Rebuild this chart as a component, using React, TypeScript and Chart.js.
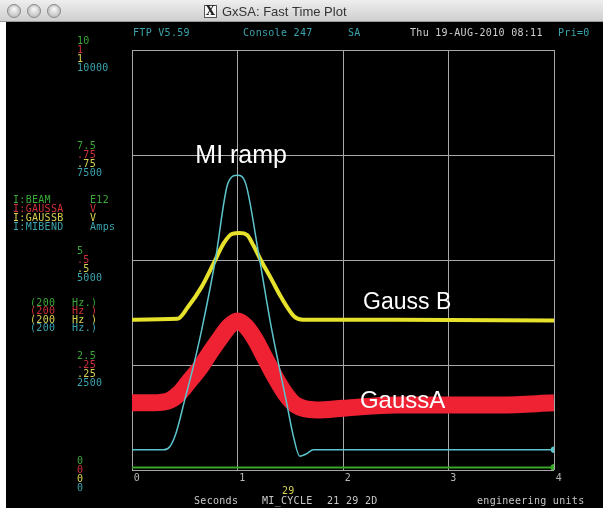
import React, { useEffect, useRef } from "react";
import { Chart, registerables } from "chart.js";

Chart.register(...registerables);

// ---- data ----
const miRampTime = [0, 0.3, 0.36, 0.42, 0.5, 0.58, 0.66, 0.79, 0.91, 1.0, 1.08, 1.2, 1.32, 1.46, 1.53, 1.59, 1.65, 1.72, 4];
const miRampValue = [0.48, 0.48, 0.56, 0.9, 1.67, 2.45, 3.33, 5.0, 6.83, 7.02, 6.8, 5.15, 3.4, 1.67, 0.8, 0.33, 0.38, 0.48, 0.48];

const gaussBTime = [0, 0.43, 0.53, 0.66, 0.77, 0.87, 0.95, 1.02, 1.09, 1.15, 1.22, 1.32, 1.41, 1.54, 1.62, 2.5, 4];
const gaussBValue = [3.58, 3.6, 3.88, 4.36, 4.9, 5.4, 5.62, 5.64, 5.6, 5.35, 5.0, 4.55, 4.13, 3.65, 3.58, 3.58, 3.56];

const gaussATime = [0, 0.2, 0.36, 0.45, 0.55, 0.65, 0.74, 0.83, 0.92, 1.0, 1.08, 1.17, 1.26, 1.36, 1.45, 1.55, 1.75, 2.0, 2.5, 3.0, 3.5, 4];
const gaussAValue = [1.6, 1.6, 1.66, 1.83, 2.14, 2.45, 2.8, 3.12, 3.42, 3.55, 3.42, 3.1, 2.67, 2.2, 1.83, 1.55, 1.43, 1.47, 1.55, 1.55, 1.55, 1.6];

const beamTime = [0, 1, 2, 3, 4];
const beamValue = [0.06, 0.06, 0.06, 0.06, 0.06];

const yTickValues = [10, 7.5, 5, 2.5, 0];
const beamTickLabels = ["10", "7.5", "5", "2.5", "0"];
const gaussATickLabels = ["1", ".75", ".5", ".25", "0"];
const gaussBTickLabels = ["1", ".75", ".5", ".25", "0"];
const miBendTickLabels = ["10000", "7500", "5000", "2500", "0"];

const xTickValues = [0, 1, 2, 3, 4];
const xTickLabels = ["0", "1", "2", "3", "4"];

const legendNames = ["I:BEAM", "I:GAUSSA", "I:GAUSSB", "I:MIBEND"];
const legendUnits = ["E12", "V", "V", "Amps"];
const legendRates = ["(200", "(200", "(200", "(200"];
const legendRateUnits = ["Hz.)", "Hz )", "Hz )", "Hz.)"];

const annotationTexts = ["MI ramp", "Gauss B", "GaussA"];
const annotationX = [0.6, 2.19, 2.16];
const annotationY = [7.3, 3.83, 1.48];
const annotationSize = [25, 23, 24];

const GREEN = "#3aa836";
const RED = "#d0303c";
const YELLOW = "#d8d450";
const TEAL = "#3aa4ae";
const MONO = '10px "DejaVu Sans Mono", monospace';

const toXY = (t: number[], v: number[]) => t.map((x, i) => ({ x, y: v[i] }));

const chromePlugin = {
  id: "chrome",
  beforeDraw(chart: any) {
    const ctx = chart.ctx as CanvasRenderingContext2D;
    const W = chart.width;
    const H = chart.height;
    ctx.save();
    ctx.fillStyle = "#ffffff";
    ctx.fillRect(0, 0, W, H);
    const g = ctx.createLinearGradient(0, 0, 0, 22);
    g.addColorStop(0, "#eeeeee");
    g.addColorStop(1, "#cdcdcd");
    ctx.fillStyle = g;
    ctx.fillRect(0, 0, W, 22);
    ctx.fillStyle = "#9a9a9a";
    ctx.fillRect(0, 21, W, 1);
    ctx.fillStyle = "#000000";
    ctx.fillRect(6, 22, W - 6, H - 22);
    [14, 34, 54].forEach((cx) => {
      const rg = ctx.createRadialGradient(cx, 9, 1, cx, 11, 7);
      rg.addColorStop(0, "#f4f4f4");
      rg.addColorStop(1, "#b8b8b8");
      ctx.beginPath();
      ctx.arc(cx, 11, 6.5, 0, Math.PI * 2);
      ctx.fillStyle = rg;
      ctx.fill();
      ctx.strokeStyle = "#8a8a8a";
      ctx.lineWidth = 1;
      ctx.stroke();
    });
    ctx.fillStyle = "#f8f8f8";
    ctx.fillRect(204, 5, 13, 13);
    ctx.strokeStyle = "#555";
    ctx.strokeRect(204.5, 5.5, 12, 12);
    ctx.font = 'bold 12px "DejaVu Serif", serif';
    ctx.fillStyle = "#222";
    ctx.textBaseline = "middle";
    ctx.textAlign = "center";
    ctx.fillText("X", 210.5, 12);
    ctx.font = '13px "Liberation Sans", Arial, sans-serif';
    ctx.textAlign = "left";
    ctx.fillStyle = "#333";
    ctx.fillText("GxSA: Fast Time Plot", 222, 12);
    ctx.restore();
  },
};

const textPlugin = {
  id: "texts",
  afterDraw(chart: any) {
    const ctx = chart.ctx as CanvasRenderingContext2D;
    const xs = chart.scales.x;
    const ys = chart.scales.y;
    ctx.save();
    (ctx as any).letterSpacing = "0.3px";
    ctx.font = MONO;
    ctx.textBaseline = "middle";
    ctx.textAlign = "left";

    const header: [string, number, string][] = [
      ["FTP V5.59", 133, TEAL],
      ["Console 247", 243, TEAL],
      ["SA", 348, TEAL],
      ["Thu 19-AUG-2010 08:11", 410, "#d0d0d0"],
      ["Pri=0", 558, TEAL],
    ];
    header.forEach(([t, x, c]) => {
      ctx.fillStyle = c;
      ctx.fillText(t, x, 33);
    });

    const groups = [beamTickLabels, gaussATickLabels, gaussBTickLabels, miBendTickLabels];
    const colors = [GREEN, RED, YELLOW, TEAL];
    const offs = [-9, 0, 9, 18];
    yTickValues.forEach((v, i) => {
      const py = ys.getPixelForValue(v);
      groups.forEach((labels, k) => {
        ctx.fillStyle = colors[k];
        ctx.fillText(labels[i], 77, py + offs[k]);
      });
    });

    legendNames.forEach((n, k) => {
      const y = 200 + k * 9;
      ctx.fillStyle = colors[k];
      ctx.fillText(n, 13, y);
      ctx.fillText(legendUnits[k], 90, y);
    });
    legendRates.forEach((r, k) => {
      const y = 303 + k * 8.5;
      ctx.fillStyle = colors[k];
      ctx.fillText(r, 30, y);
      ctx.fillText(legendRateUnits[k], 72, y);
    });

    ctx.fillStyle = "#b8b8b8";
    ctx.textAlign = "center";
    xTickValues.forEach((v, i) => {
      ctx.fillText(xTickLabels[i], xs.getPixelForValue(v) + 5, 478);
    });
    ctx.textAlign = "left";
    ctx.fillStyle = YELLOW;
    ctx.fillText("29", 282, 491);
    ctx.fillStyle = "#c8c8c8";
    ctx.fillText("Seconds", 194, 501);
    ctx.fillText("MI_CYCLE", 262, 501);
    ctx.fillText("21 29 2D", 327, 501);
    ctx.fillText("engineering units", 477, 501);

    (ctx as any).letterSpacing = "0px";
    ctx.fillStyle = "#ffffff";
    ctx.textBaseline = "alphabetic";
    annotationTexts.forEach((t, i) => {
      ctx.font = `${annotationSize[i]}px "Liberation Sans", Arial, sans-serif`;
      ctx.fillText(t, xs.getPixelForValue(annotationX[i]), ys.getPixelForValue(annotationY[i]));
    });
    ctx.restore();
  },
};

export default function App() {
  const ref = useRef<HTMLCanvasElement>(null);
  useEffect(() => {
    document.body.style.margin = "0";
    const canvas = ref.current!;
    const lastPoint = (n: number) => (c: any) => (c.dataIndex === n - 1 ? 2.5 : 0);
    const chart = new Chart(canvas, {
      type: "line",
      data: {
        datasets: [
          {
            label: "I:MIBEND",
            data: toXY(miRampTime, miRampValue),
            borderColor: "#5cc4cc",
            backgroundColor: "#5cc4cc",
            borderWidth: 1.5,
            pointRadius: lastPoint(miRampTime.length),
            cubicInterpolationMode: "monotone",
          },
          {
            label: "I:GAUSSB",
            data: toXY(gaussBTime, gaussBValue),
            borderColor: "#e6e22c",
            borderWidth: 4,
            pointRadius: 0,
            cubicInterpolationMode: "monotone",
          },
          {
            label: "I:GAUSSA",
            data: toXY(gaussATime, gaussAValue),
            borderColor: "#ee2233",
            borderWidth: 17,
            pointRadius: 0,
            cubicInterpolationMode: "monotone",
          },
          {
            label: "I:BEAM",
            data: toXY(beamTime, beamValue),
            borderColor: "#3aa52a",
            backgroundColor: "#3aa52a",
            borderWidth: 2,
            pointRadius: lastPoint(beamTime.length),
          },
        ],
      },
      options: {
        animation: false,
        responsive: false,
        devicePixelRatio: 1,
        layout: { padding: { left: 132, right: 49, top: 50, bottom: 38 } },
        plugins: { legend: { display: false }, tooltip: { enabled: false } },
        scales: {
          x: {
            type: "linear",
            min: 0,
            max: 4,
            ticks: { display: false, stepSize: 1 },
            grid: { color: "#a8a8a8", lineWidth: 1, drawTicks: false, tickLength: 0 },
            border: { display: false },
          },
          y: {
            type: "linear",
            min: 0,
            max: 10,
            ticks: { display: false, stepSize: 2.5 },
            grid: { color: "#a8a8a8", lineWidth: 1, drawTicks: false, tickLength: 0 },
            border: { display: false },
          },
        },
      },
      plugins: [chromePlugin, textPlugin],
    } as any);
    return () => chart.destroy();
  }, []);
  return <canvas ref={ref} width={603} height={508} style={{ display: "block", width: 603, height: 508 }} />;
}
